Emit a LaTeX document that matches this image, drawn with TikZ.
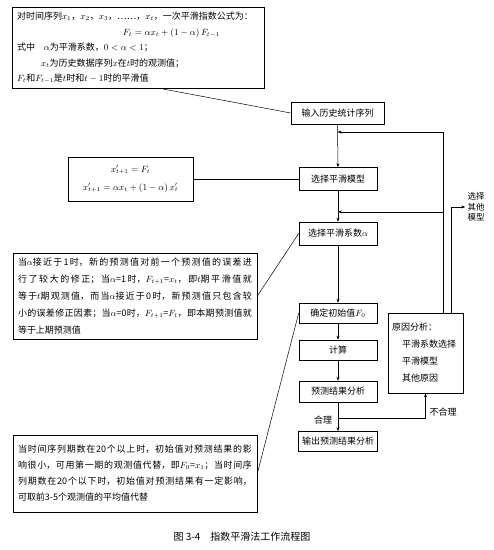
\documentclass[tikz,border=0pt]{standalone}
\usepackage[no-math]{fontspec}
\setmainfont{Noto Sans CJK SC}
\usepackage{tikz}
\usetikzlibrary{arrows.meta, positioning, calc}
\XeTeXlinebreaklocale "zh"
\XeTeXlinebreakskip=0pt plus 4pt
\tolerance=10000
\hbadness=10000

\begin{document}
\begin{tikzpicture}[x=1pt, y=-1pt,
    >={Stealth[length=4pt, width=3pt]},
    flow/.style={draw, line width=0.6pt, minimum width=#1, minimum height=21pt,
                 inner sep=0pt, font=\fontsize{9}{11}\selectfont},
    flow/.default=78pt,
    note/.style={draw, line width=0.6pt, inner sep=5pt, text width=#1,
                 align=justify, font=\fontsize{9}{17}\selectfont},
    tag/.style={inner sep=0pt, font=\fontsize{9}{11}\selectfont}
]
    \useasboundingbox (0,0) rectangle (494,550);

    % notes on the left
    \node[note=242pt, align=left, font=\fontsize{9}{15.5}\selectfont] (def) at (138,48) {
        对时间序列$x_1$，$x_2$，$x_3$，……，$x_t$，一次平滑指数公式为：\\
        \hspace*{106pt}$F_t=\alpha x_t+(1-\alpha)\,F_{t-1}$\\
        式中\quad$\alpha$为平滑系数，$0<\alpha<1$；\\
        \hspace*{24pt}$x_t$为历史数据序列$x$在$t$时的观测值；\\
        $F_t$和$F_{t-1}$是$t$时和$t-1$时的平滑值
    };

    \node[draw, line width=0.6pt, minimum width=125pt, minimum height=44pt, align=center,
          font=\fontsize{9}{18}\selectfont] (formula) at (130.5,179) {
        $x'_{t+1}=F_t$\\
        $x'_{t+1}=\alpha x_t+(1-\alpha)\,x'_t$
    };

    \node[note=234pt] (alpha) at (135,296) {
        当$\alpha$接近于1时，新的预测值对前一个预测值的误差进\linebreak
        行了较大的修正；当$\alpha$=1时，$F_{t+1}$=$x_t$，即$t$期平滑值就\linebreak
        等于$t$期观测值，而当$\alpha$接近于0时，新预测值只包含较\linebreak
        小的误差修正因素；当$\alpha$=0时，$F_{t+1}$=$F_t$，即本期预测值就\linebreak
        等于上期预测值
    };

    \node[note=234pt, minimum height=77pt, font=\fontsize{9}{16}\selectfont] (initnote) at (135,473.5) {
        当时间序列期数在20个以上时，初始值对预测结果的影\linebreak
        响很小，可用第一期的观测值代替，即$F_0$=$x_1$；当时间序\linebreak
        列期数在20个以下时，初始值对预测结果有一定影响，\linebreak
        可取前3-5个观测值的平均值代替
    };

    % main flow
    \node[flow=93pt, minimum height=22pt] (input) at (337.5,113) {输入历史统计序列};
    \node[flow, minimum height=23pt] (model) at (338,179) {选择平滑模型};
    \node[flow, minimum height=23pt] (coef) at (338,233.5) {选择平滑系数$\alpha$};
    \node[flow, minimum height=20pt] (init) at (338,313) {确定初始值$F_0$};
    \node[flow, minimum height=20pt] (calc) at (338,350) {计算};
    \node[flow] (result) at (338,391.5) {预测结果分析};
    \node[flow=79pt, minimum height=20pt] (output) at (338,441.5) {输出预测结果分析};

    \node[draw, line width=0.6pt, minimum width=75pt, minimum height=80pt, inner sep=4pt,
          text width=67pt, align=left, font=\fontsize{9}{17}\selectfont] (reason) at (425.5,353) {
        原因分析：\\
        \hspace*{10pt}平滑系数选择\\
        \hspace*{10pt}平滑模型\\
        \hspace*{10pt}其他原因
    };

    \node[tag, align=center, font=\fontsize{8.5}{10.5}\selectfont] (other) at (476,207) {选择\\其他\\模型};
    \node[tag] (ok) at (323,420) {合理};
    \node[tag] (notok) at (443,412) {不合理};

    \node[inner sep=0pt, font=\fontsize{10}{12}\selectfont] (caption) at (242,537) {图 3-4\quad 指数平滑法工作流程图};

    % connectors
    \draw[line width=0.5pt] ($(def.south west)!0.6!(def.south east)$) -- (input.west);
    \draw[line width=0.5pt] (formula.east) -- (model.west);
    \draw[line width=0.5pt] (alpha.east) -- (coef.west);
    \draw[line width=0.5pt] (initnote.east) -- (init.west);

    \draw[->, line width=0.5pt] (input) -- (model);
    \draw[->, line width=0.5pt] (model) -- (coef);
    \draw[->, line width=0.5pt] (coef) -- (init);
    \draw[->, line width=0.5pt] (init) -- (calc);
    \draw[->, line width=0.5pt] (calc) -- (result);
    \draw[->, line width=0.5pt] (result) -- (output);

    % feedback from the cause analysis
    \coordinate (fbA) at ($(reason.north west)!0.73!(reason.north east)$);
    \coordinate (fbB) at ($(reason.north west)!0.84!(reason.north east)$);
    \coordinate (midA) at ($(input.south)!0.18!(model.north)$);
    \coordinate (midB) at ($(model.south)!0.68!(coef.north)$);
    \coordinate (midC) at ($(result.south)!0.55!(output.north)$);
    \draw[->, line width=0.5pt] (fbA) |- (midA);
    \draw[->, line width=0.5pt] (fbA |- midB) -- (midB);
    \draw[->, line width=0.5pt] (fbB) |- ([xshift=-2pt]other.west);
    \draw[->, line width=0.5pt] (midC) -| (reason.south);
\end{tikzpicture}
\end{document}
